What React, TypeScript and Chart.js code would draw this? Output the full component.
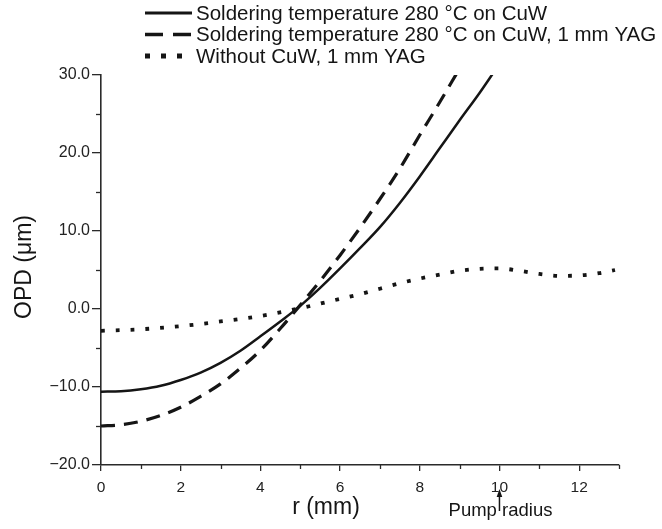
import React, { useEffect, useRef } from 'react';
import { Chart, registerables } from 'chart.js';

Chart.register(...registerables);

const seriesLabels = [
  'Soldering temperature 280 °C on CuW',
  'Soldering temperature 280 °C on CuW, 1 mm YAG',
  'Without CuW, 1 mm YAG',
];

const solidR = [0, 0.5, 1, 1.5, 2, 2.5, 3, 3.5, 4, 4.5, 5, 5.5, 6, 6.5, 7, 7.5, 8, 8.5, 9, 9.5, 9.85];
const solidOPD = [-10.6, -10.55, -10.3, -9.85, -9.1, -8.15, -6.9, -5.35, -3.5, -1.6, 0.4, 2.7, 5.2, 7.8, 10.5, 13.6, 17.0, 20.6, 24.2, 27.7, 30.3];

const dashedR = [0, 0.5, 1, 1.5, 2, 2.5, 3, 3.5, 4, 4.5, 5, 5.5, 6, 6.5, 7, 7.5, 8, 8.5, 8.95];
const dashedOPD = [-15.0, -14.85, -14.4, -13.65, -12.6, -11.2, -9.6, -7.6, -5.3, -2.5, 0.5, 3.6, 6.9, 10.4, 14.1, 18.0, 22.3, 26.5, 30.4];

const dottedR = [0, 1, 2, 3, 4, 5, 6, 6.5, 7, 7.5, 8, 8.5, 9, 9.5, 10, 10.5, 11, 11.5, 12, 12.5, 12.9];
const dottedOPD = [-2.8, -2.6, -2.2, -1.6, -0.9, 0.1, 1.3, 1.9, 2.6, 3.3, 3.9, 4.4, 4.9, 5.15, 5.2, 4.9, 4.5, 4.25, 4.3, 4.6, 5.0];

const xMin = 0;
const xMax = 13;
const yMin = -20;
const yMax = 30;
const xTickLabels = ['0', '2', '4', '6', '8', '10', '12'];
const yTickLabels = ['\u221220.0', '\u221210.0', '0.0', '10.0', '20.0', '30.0'];
const xAxisTitle = 'r (mm)';
const yAxisTitle = 'OPD (\u03bcm)';
const pumpRadius = 10;
const pumpText = 'Pump radius';

const FONT = '"Liberation Sans", Arial, sans-serif';
const INK = '#151515';
const AXIS = '#2a2a2a';

function toPoints(xs: number[], ys: number[]) {
  return xs.map((x, i) => ({ x, y: ys[i] }));
}

const legendDash: number[][] = [[], [18, 10], [5, 11]];
const legendWidth = [3, 3.5, 5];

const decorPlugin = {
  id: 'decor',
  afterDraw(chart: any) {
    const ctx = chart.ctx as CanvasRenderingContext2D;
    const xs = chart.scales.x;
    const ys = chart.scales.y;
    const area = chart.chartArea;
    ctx.save();
    // minor ticks
    ctx.strokeStyle = AXIS;
    ctx.lineWidth = 1.3;
    for (let v = xMin + 1; v <= xMax; v += 2) {
      const px = Math.round(xs.getPixelForValue(v)) + 0.5;
      ctx.beginPath();
      ctx.moveTo(px, area.bottom);
      ctx.lineTo(px, area.bottom + 4);
      ctx.stroke();
    }
    for (let v = yMin + 5; v < yMax; v += 10) {
      const py = Math.round(ys.getPixelForValue(v)) + 0.5;
      ctx.beginPath();
      ctx.moveTo(area.left - 5, py);
      ctx.lineTo(area.left, py);
      ctx.stroke();
    }
    // legend
    ctx.fillStyle = INK;
    ctx.font = `20.5px ${FONT}`;
    ctx.textAlign = 'left';
    ctx.textBaseline = 'middle';
    chart.data.datasets.forEach((ds: any, i: number) => {
      const y = 13 + i * 21.5;
      ctx.strokeStyle = INK;
      ctx.lineWidth = legendWidth[i];
      ctx.lineCap = 'butt';
      ctx.setLineDash(legendDash[i]);
      ctx.beginPath();
      ctx.moveTo(145, y);
      ctx.lineTo(192, y);
      ctx.stroke();
      ctx.setLineDash([]);
      ctx.fillText(ds.label, 196, y + 1);
    });
    // axis titles
    ctx.font = `23px ${FONT}`;
    ctx.textAlign = 'center';
    ctx.textBaseline = 'middle';
    ctx.fillText(xAxisTitle, 326, 508);
    ctx.save();
    ctx.translate(25, (area.top + area.bottom) / 2 - 3);
    ctx.rotate(-Math.PI / 2);
    ctx.fillText(yAxisTitle, 0, 0);
    ctx.restore();
    // pump radius annotation
    const ax = xs.getPixelForValue(pumpRadius);
    ctx.font = `18.5px ${FONT}`;
    ctx.textAlign = 'left';
    ctx.textBaseline = 'alphabetic';
    const wPump = ctx.measureText('Pump').width;
    const wSpace = ctx.measureText(' ').width;
    ctx.fillText(pumpText, ax - wPump - wSpace / 2, 516);
    ctx.strokeStyle = INK;
    ctx.lineWidth = 1.5;
    ctx.beginPath();
    ctx.moveTo(ax, 511);
    ctx.lineTo(ax, 494);
    ctx.stroke();
    ctx.beginPath();
    ctx.moveTo(ax, 489);
    ctx.lineTo(ax - 2.8, 497);
    ctx.lineTo(ax + 2.8, 497);
    ctx.closePath();
    ctx.fill();
    ctx.restore();
  },
};

export default function App() {
  const ref = useRef<HTMLCanvasElement | null>(null);
  useEffect(() => {
    if (!ref.current) return;
    const chart = new Chart(ref.current, {
      type: 'line',
      data: {
        datasets: [
          {
            label: seriesLabels[0],
            data: toPoints(solidR, solidOPD),
            borderColor: INK,
            borderWidth: 2.5,
            pointRadius: 0,
            cubicInterpolationMode: 'monotone',
            fill: false,
            clip: 0,
          },
          {
            label: seriesLabels[1],
            data: toPoints(dashedR, dashedOPD),
            borderColor: INK,
            borderWidth: 3.2,
            borderDash: [14, 9],
            pointRadius: 0,
            cubicInterpolationMode: 'monotone',
            fill: false,
            clip: 0,
          },
          {
            label: seriesLabels[2],
            data: toPoints(dottedR, dottedOPD),
            borderColor: INK,
            borderWidth: 3.8,
            borderDash: [3.8, 11],
            pointRadius: 0,
            cubicInterpolationMode: 'monotone',
            fill: false,
            clip: 0,
          },
        ],
      },
      options: {
        responsive: false,
        animation: false,
        devicePixelRatio: 1,
        layout: { padding: { top: 75, right: 43, left: 0, bottom: 0 } },
        plugins: {
          legend: { display: false },
          tooltip: { enabled: false },
          title: { display: false },
        },
        scales: {
          x: {
            type: 'linear',
            min: xMin,
            max: xMax,
            afterFit: (s: any) => { s.height = 64; },
            border: { display: true, color: AXIS, width: 1.6 },
            grid: {
              drawOnChartArea: false,
              drawTicks: true,
              tickLength: 6,
              lineWidth: 1.3,
              color: (c: any) => (c.tick && c.tick.value % 2 === 0 ? AXIS : 'rgba(0,0,0,0)'),
            },
            ticks: {
              stepSize: 1,
              autoSkip: false,
              maxRotation: 0,
              padding: 7,
              color: '#222',
              font: { family: FONT, size: 15.5 },
              callback: (v: any) => {
                const idx = xTickLabels.indexOf(String(v));
                return idx >= 0 ? xTickLabels[idx] : '';
              },
            },
          },
          y: {
            type: 'linear',
            min: yMin,
            max: yMax,
            afterFit: (s: any) => { s.width = 101; },
            border: { display: true, color: AXIS, width: 1.6 },
            grid: {
              drawOnChartArea: false,
              drawTicks: true,
              tickLength: 9,
              lineWidth: 1.3,
              color: (c: any) => (c.tick && c.tick.value % 10 === 0 ? AXIS : 'rgba(0,0,0,0)'),
            },
            ticks: {
              stepSize: 5,
              autoSkip: false,
              padding: 2,
              color: '#222',
              font: { family: FONT, size: 16 },
              callback: (v: any) => {
                const n = Number(v);
                if (n % 10 !== 0) return '';
                return yTickLabels[(n - yMin) / 10];
              },
            },
          },
        },
      },
      plugins: [decorPlugin],
    });
    return () => chart.destroy();
  }, []);
  return (
    <div style={{ position: 'fixed', left: 0, top: 0, width: 662, height: 529, background: '#fff' }}>
      <canvas ref={ref} width={662} height={529} style={{ display: 'block' }} />
    </div>
  );
}
